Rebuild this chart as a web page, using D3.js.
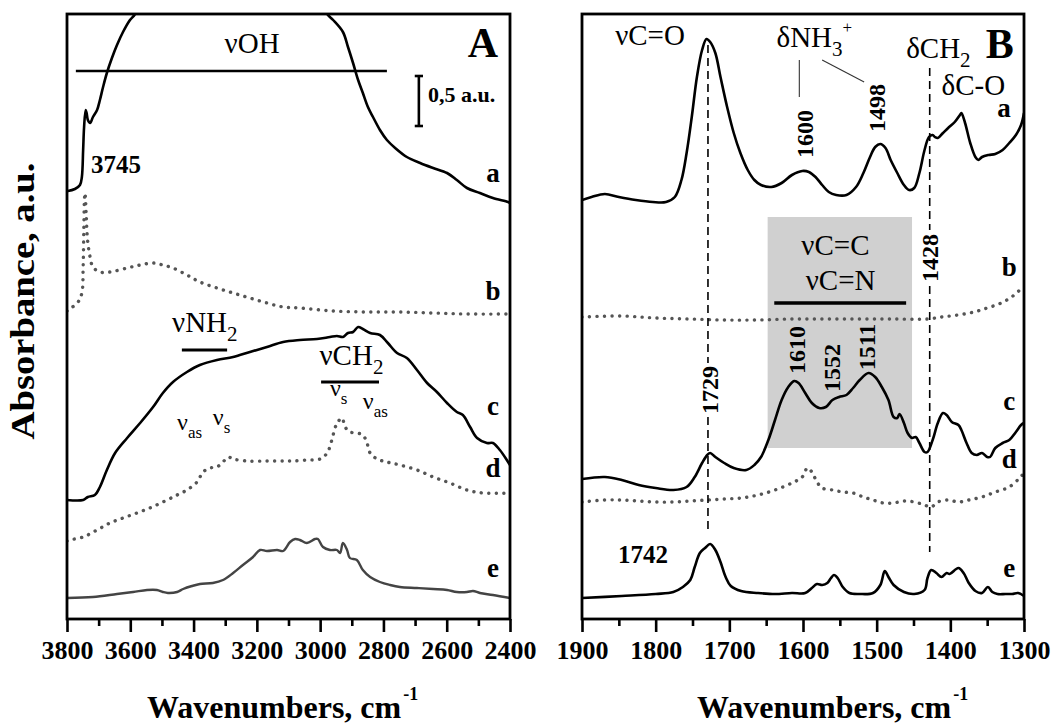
<!DOCTYPE html>
<html><head><meta charset="utf-8">
<script src="https://cdn.jsdelivr.net/npm/d3@7"></script>
<style>
body{margin:0;background:#fff;}
svg{display:block;}
text{font-family:'Liberation Serif','Times New Roman',serif;fill:#000;}
</style></head><body>
<svg id="chart" width="1051" height="724"></svg>
<script>
// ---------- DATA ----------
const xDomainA = [3800, 2400];
const xDomainB = [1900, 1300];
const yDomain = [0, 6.05];
const majorTicksA = [3800, 3600, 3400, 3200, 3000, 2800, 2600, 2400];
const minorTicksA = [3700, 3500, 3300, 3100, 2900, 2700, 2500];
const majorTicksB = [1900, 1800, 1700, 1600, 1500, 1400, 1300];
const minorTicksB = [1850, 1750, 1650, 1550, 1450, 1350];
const xTitle = "Wavenumbers, cm";
const xTitleSup = "-1";
const yTitle = "Absorbance, a.u.";
const curveNames = ["a", "b", "c", "d", "e"];

// Panel A spectra [wavenumber, absorbance]
const A_a = [[3800,4.28],[3797,4.28],[3775,4.30],[3759,4.34],[3753,4.42],[3749,4.69],[3746,4.92],[3741,5.09],[3738,5.06],[3734,4.99],[3727,4.96],[3718,5.02],[3705,5.09],[3696,5.19],[3686,5.32],[3674,5.46],[3658,5.61],[3642,5.74],[3623,5.87],[3601,5.99],[3585,6.05],[3550,6.4],[3450,6.7],[3300,6.8],[3150,6.75],[3050,6.45],[2978,6.05],[2959,5.99],[2928,5.87],[2912,5.72],[2896,5.56],[2880,5.39],[2865,5.26],[2849,5.12],[2833,5.02],[2811,4.89],[2789,4.79],[2763,4.71],[2726,4.62],[2684,4.56],[2643,4.51],[2599,4.46],[2568,4.39],[2536,4.31],[2495,4.26],[2454,4.21],[2406,4.17],[2400,4.16]];
const A_b = [[3800,3.08],[3791,3.10],[3765,3.17],[3753,3.26],[3749,3.52],[3747,3.86],[3745,4.19],[3743,4.26],[3739,4.02],[3735,3.79],[3727,3.62],[3718,3.52],[3696,3.47],[3664,3.47],[3610,3.51],[3569,3.54],[3528,3.56],[3497,3.54],[3465,3.51],[3421,3.44],[3380,3.37],[3326,3.31],[3275,3.26],[3222,3.21],[3168,3.16],[3117,3.12],[3064,3.11],[2959,3.08],[2852,3.07],[2748,3.07],[2643,3.06],[2536,3.05],[2400,3.05]];
const A_c = [[3800,1.19],[3749,1.19],[3734,1.22],[3712,1.24],[3696,1.32],[3674,1.49],[3648,1.66],[3610,1.81],[3569,1.96],[3528,2.12],[3497,2.26],[3465,2.37],[3421,2.47],[3380,2.54],[3326,2.59],[3275,2.62],[3222,2.67],[3168,2.72],[3117,2.77],[3064,2.79],[3010,2.80],[2969,2.82],[2947,2.83],[2928,2.82],[2912,2.86],[2896,2.87],[2880,2.92],[2865,2.90],[2842,2.86],[2811,2.84],[2786,2.76],[2757,2.66],[2726,2.61],[2694,2.49],[2662,2.36],[2631,2.27],[2599,2.16],[2568,2.07],[2549,2.04],[2526,1.92],[2504,1.81],[2473,1.76],[2454,1.76],[2432,1.69],[2406,1.57],[2400,1.54]];
const A_d = [[3800,0.78],[3791,0.79],[3749,0.82],[3705,0.89],[3664,0.96],[3623,1.01],[3579,1.06],[3538,1.11],[3497,1.17],[3452,1.24],[3421,1.29],[3389,1.37],[3370,1.47],[3348,1.51],[3326,1.52],[3307,1.57],[3291,1.62],[3275,1.60],[3231,1.58],[3168,1.58],[3117,1.58],[3086,1.58],[3042,1.59],[3000,1.60],[2978,1.66],[2963,1.79],[2953,1.91],[2944,1.97],[2931,2.01],[2921,1.92],[2906,1.87],[2884,1.86],[2865,1.84],[2852,1.76],[2842,1.66],[2820,1.60],[2789,1.57],[2748,1.54],[2694,1.49],[2643,1.42],[2590,1.36],[2536,1.29],[2485,1.26],[2400,1.26]];
const A_e = [[3800,0.21],[3718,0.22],[3642,0.25],[3591,0.27],[3547,0.29],[3516,0.29],[3497,0.27],[3481,0.26],[3452,0.27],[3433,0.30],[3405,0.33],[3380,0.35],[3339,0.36],[3307,0.39],[3275,0.46],[3244,0.54],[3212,0.62],[3190,0.69],[3168,0.68],[3136,0.69],[3117,0.68],[3095,0.77],[3079,0.80],[3064,0.79],[3042,0.76],[3016,0.80],[3007,0.80],[2991,0.72],[2969,0.69],[2947,0.69],[2937,0.66],[2928,0.76],[2915,0.69],[2906,0.61],[2884,0.59],[2865,0.49],[2842,0.42],[2811,0.37],[2779,0.34],[2748,0.32],[2694,0.31],[2643,0.30],[2599,0.29],[2568,0.27],[2536,0.27],[2517,0.28],[2495,0.26],[2454,0.24],[2400,0.21]];

// Panel B spectra
const B_a = [[1900,4.19],[1887,4.22],[1869,4.25],[1850,4.22],[1827,4.19],[1804,4.17],[1786,4.17],[1774,4.22],[1765,4.39],[1758,4.66],[1751,5.02],[1744,5.42],[1737,5.69],[1731,5.80],[1726,5.77],[1719,5.66],[1712,5.42],[1703,5.12],[1694,4.86],[1685,4.66],[1675,4.49],[1666,4.39],[1657,4.34],[1643,4.32],[1629,4.36],[1615,4.44],[1601,4.48],[1592,4.47],[1583,4.42],[1574,4.34],[1565,4.27],[1555,4.24],[1541,4.24],[1528,4.32],[1518,4.46],[1509,4.62],[1502,4.72],[1495,4.75],[1488,4.71],[1481,4.59],[1472,4.46],[1463,4.34],[1456,4.29],[1449,4.31],[1442,4.46],[1435,4.69],[1429,4.82],[1424,4.84],[1421,4.82],[1417,4.81],[1410,4.86],[1403,4.91],[1394,4.97],[1387,5.04],[1385,5.06],[1380,4.96],[1373,4.76],[1366,4.62],[1362,4.59],[1357,4.62],[1348,4.64],[1339,4.65],[1329,4.69],[1320,4.76],[1311,4.84],[1304,4.94],[1300,5.06]];
const B_b = [[1900,3.02],[1846,3.03],[1800,3.01],[1754,3.00],[1708,2.99],[1662,2.99],[1616,3.00],[1570,3.00],[1523,3.00],[1477,3.00],[1431,3.00],[1412,3.02],[1390,3.04],[1368,3.07],[1350,3.11],[1331,3.16],[1315,3.23],[1300,3.33]];
const B_c = [[1900,1.40],[1869,1.42],[1846,1.39],[1823,1.34],[1800,1.31],[1776,1.29],[1758,1.32],[1747,1.42],[1737,1.56],[1730,1.64],[1726,1.66],[1719,1.62],[1707,1.56],[1694,1.51],[1677,1.49],[1666,1.54],[1657,1.62],[1647,1.79],[1638,1.99],[1629,2.19],[1620,2.32],[1612,2.38],[1606,2.36],[1597,2.26],[1588,2.16],[1578,2.11],[1569,2.12],[1560,2.19],[1551,2.22],[1541,2.24],[1532,2.31],[1523,2.39],[1511,2.46],[1502,2.42],[1493,2.32],[1484,2.19],[1477,2.02],[1472,2.01],[1469,2.05],[1463,1.96],[1458,1.86],[1452,1.81],[1447,1.82],[1442,1.76],[1435,1.67],[1431,1.67],[1424,1.79],[1417,1.96],[1410,2.06],[1405,2.04],[1398,1.97],[1389,1.94],[1385,1.89],[1378,1.76],[1371,1.66],[1364,1.64],[1357,1.66],[1350,1.62],[1346,1.62],[1339,1.71],[1329,1.76],[1320,1.79],[1311,1.87],[1304,1.94],[1300,1.96]];
const B_d = [[1900,1.17],[1869,1.19],[1846,1.19],[1823,1.18],[1800,1.17],[1776,1.17],[1753,1.18],[1730,1.19],[1707,1.20],[1684,1.21],[1661,1.24],[1638,1.29],[1615,1.36],[1601,1.42],[1594,1.51],[1588,1.47],[1581,1.37],[1574,1.31],[1560,1.29],[1546,1.27],[1532,1.26],[1518,1.22],[1505,1.19],[1491,1.16],[1477,1.16],[1463,1.18],[1449,1.17],[1435,1.14],[1426,1.12],[1417,1.17],[1403,1.19],[1389,1.17],[1375,1.19],[1357,1.22],[1339,1.27],[1320,1.32],[1306,1.41],[1300,1.46]];
const B_e = [[1900,0.21],[1846,0.23],[1800,0.25],[1776,0.27],[1763,0.32],[1753,0.39],[1747,0.52],[1740,0.66],[1733,0.71],[1726,0.75],[1719,0.69],[1712,0.57],[1705,0.42],[1698,0.33],[1684,0.28],[1661,0.26],[1638,0.25],[1615,0.26],[1597,0.26],[1588,0.31],[1581,0.35],[1574,0.34],[1567,0.36],[1562,0.41],[1558,0.44],[1553,0.41],[1546,0.32],[1537,0.26],[1523,0.25],[1505,0.26],[1495,0.34],[1489,0.48],[1484,0.42],[1477,0.34],[1463,0.27],[1449,0.25],[1435,0.29],[1431,0.41],[1426,0.49],[1419,0.46],[1412,0.42],[1405,0.46],[1401,0.45],[1389,0.51],[1382,0.46],[1375,0.36],[1366,0.28],[1357,0.26],[1349,0.32],[1343,0.27],[1336,0.25],[1325,0.25],[1316,0.25],[1308,0.26],[1300,0.23]];

// marked peak positions (cm-1)
const dashedPeaks = [1729, 1428];
const shadedRange = [1648, 1452];   // νC=C / νC=N band
const shadedAbs = [1.71, 4.02];
const scaleBarAU = 0.5;

// ---------- LAYOUT ----------
const svg = d3.select("#chart");
const y = d3.scaleLinear().domain(yDomain).range([619, 14]);
const xA = d3.scaleLinear().domain(xDomainA).range([67, 510]);
const xB = d3.scaleLinear().domain(xDomainB).range([582, 1024]);
const SERIF = "'Liberation Serif','Times New Roman',serif";
const SANS = "'Liberation Sans',Arial,sans-serif";

function lineGen(xs) {
  return d3.line().x(d => xs(d[0])).y(d => y(d[1])).curve(d3.curveCatmullRom.alpha(0.5));
}

function label(g, xs, a) {
  const size = a.size;
  const t = g.append("text")
    .attr("font-size", size)
    .attr("font-weight", a.bold ? "bold" : "normal")
    .attr("font-family", a.sans ? SANS : SERIF);
  const px = xs(a.w), py = y(a.v);
  if (a.rot) {
    t.attr("transform", `translate(${px + size * 0.34},${py}) rotate(-90)`).attr("text-anchor", "middle");
  } else {
    t.attr("x", px).attr("y", py).attr("text-anchor", a.anchor || "start");
  }
  let shift = 0;
  a.parts.forEach(p => {
    const ts = t.append("tspan").text(p[0]);
    const target = p[1] === "sub" ? size * 0.32 : p[1] === "sup" ? -size * 0.5 : 0;
    if (target !== shift) { ts.attr("dy", target - shift); shift = target; }
    if (p[1]) ts.attr("font-size", p[2] || size * 0.7);
  });
  return t;
}

function drawPanel(cfg) {
  const xs = cfg.x;
  const g = svg.append("g");
  const [x0, x1] = xs.range();
  const clipId = "clip" + cfg.name;
  svg.append("clipPath").attr("id", clipId).append("rect")
    .attr("x", x0).attr("y", y.range()[1]).attr("width", x1 - x0).attr("height", y.range()[0] - y.range()[1]);

  if (cfg.before) cfg.before(g, xs);

  const cg = g.append("g").attr("clip-path", `url(#${clipId})`);
  cfg.curves.forEach(c => {
    const p = cg.append("path").datum(c.data).attr("d", lineGen(xs))
      .attr("fill", "none").attr("stroke", c.color).attr("stroke-width", c.width)
      .attr("stroke-linejoin", "round");
    if (c.dotted) p.attr("stroke-dasharray", "0.1 7.4").attr("stroke-linecap", "round");
  });

  if (cfg.after) cfg.after(g, xs);

  // curve labels a-e
  curveNames.forEach((n, i) => {
    label(g, xs, { w: cfg.labelW[i], v: cfg.labelV[i], size: 27, bold: true, anchor: "middle", parts: [[n]] });
  });

  // axes
  const ax = g.append("g").attr("transform", `translate(0,${y.range()[0]})`);
  ax.call(d3.axisBottom(xs).tickValues(cfg.minor).tickSize(7).tickFormat(""));
  ax.call(g2 => g2.select(".domain").remove());
  const ax2 = g.append("g").attr("transform", `translate(0,${y.range()[0]})`);
  ax2.call(d3.axisBottom(xs).tickValues(cfg.major).tickSize(13).tickPadding(9).tickFormat(d3.format("d")));
  ax2.select(".domain").remove();
  g.selectAll(".tick line").attr("stroke", "#000").attr("stroke-width", 2.6);
  ax2.selectAll(".tick text").attr("font-family", SERIF).attr("font-size", 26).attr("font-weight", "bold").attr("fill", "#000");

  // frame
  g.append("rect").attr("x", x0).attr("y", y.range()[1]).attr("width", x1 - x0).attr("height", y.range()[0] - y.range()[1])
    .attr("fill", "none").attr("stroke", "#000").attr("stroke-width", 2.8);

  // x title
  const tt = g.append("text").attr("x", cfg.titleX).attr("y", 718)
    .attr("font-size", 32).attr("font-weight", "bold").attr("font-family", SERIF);
  tt.append("tspan").text(xTitle);
  tt.append("tspan").text(xTitleSup).attr("font-size", 18).attr("dy", -18).attr("dx", 2);
}

function hline(g, xs, w0, w1, v, width, color) {
  g.append("line").attr("x1", xs(w0)).attr("x2", xs(w1)).attr("y1", y(v)).attr("y2", y(v))
    .attr("stroke", color || "#000").attr("stroke-width", width);
}
function seg(g, xs, w0, v0, w1, v1, width, color, dash) {
  const l = g.append("line").attr("x1", xs(w0)).attr("x2", xs(w1)).attr("y1", y(v0)).attr("y2", y(v1))
    .attr("stroke", color || "#000").attr("stroke-width", width);
  if (dash) l.attr("stroke-dasharray", dash);
}

// ---------- PANEL A ----------
drawPanel({
  name: "A", x: xA, major: majorTicksA, minor: minorTicksA, titleX: 147,
  labelW: [2454, 2454, 2454, 2454, 2454], labelV: [4.37, 3.19, 2.04, 1.42, 0.42],
  curves: [
    { data: A_a, color: "#000", width: 2.6 },
    { data: A_b, color: "#555", width: 3.4, dotted: true },
    { data: A_c, color: "#000", width: 2.6 },
    { data: A_d, color: "#555", width: 3.4, dotted: true },
    { data: A_e, color: "#444", width: 2.4 }
  ],
  after: (g, xs) => {
    label(g, xs, { w: 3215, v: 5.66, size: 29, anchor: "middle", parts: [["νOH"]] });
    hline(g, xs, 3772, 2789, 5.48, 2.6);
    label(g, xs, { w: 2438, v: 5.62, size: 42, bold: true, anchor: "end", parts: [["A"]] });
    // scale bar 0.5 a.u.
    const sbW = 2688, sbTop = 5.43;
    seg(g, xs, sbW, sbTop, sbW, sbTop - scaleBarAU, 2.6);
    seg(g, xs, sbW + 13, sbTop, sbW - 13, sbTop, 2.6);
    seg(g, xs, sbW + 13, sbTop - scaleBarAU, sbW - 13, sbTop - scaleBarAU, 2.6);
    label(g, xs, { w: 2659, v: 5.17, size: 22, bold: true, parts: [["0,5 a.u."]] });
    label(g, xs, { w: 3724, v: 4.46, size: 25, bold: true, parts: [["3745"]] });
    // νNH2
    label(g, xs, { w: 3468, v: 2.87, size: 29, parts: [["νNH"], ["2", "sub", 21]] });
    hline(g, xs, 3437, 3294, 2.69, 3);
    // νCH2
    label(g, xs, { w: 3002, v: 2.54, size: 29, parts: [["νCH"], ["2", "sub", 21]] });
    hline(g, xs, 2997, 2814, 2.37, 3);
    // sans ν labels
    label(g, xs, { w: 2969, v: 2.23, size: 24, sans: true, parts: [["ν"], ["s", "sub", 17]] });
    label(g, xs, { w: 2865, v: 2.10, size: 24, sans: true, parts: [["ν"], ["as", "sub", 17]] });
    label(g, xs, { w: 3452, v: 1.89, size: 24, sans: true, parts: [["ν"], ["as", "sub", 17]] });
    label(g, xs, { w: 3339, v: 1.94, size: 24, sans: true, parts: [["ν"], ["s", "sub", 17]] });
  }
});

// ---------- PANEL B ----------
drawPanel({
  name: "B", x: xB, major: majorTicksB, minor: minorTicksB, titleX: 697,
  labelW: [1327, 1320, 1320, 1320, 1320], labelV: [5.02, 3.43, 2.09, 1.51, 0.42],
  curves: [
    { data: B_a, color: "#000", width: 2.6 },
    { data: B_b, color: "#555", width: 3.4, dotted: true },
    { data: B_c, color: "#000", width: 2.6 },
    { data: B_d, color: "#555", width: 3.4, dotted: true },
    { data: B_e, color: "#000", width: 2.6 }
  ],
  before: (g, xs) => {
    g.append("rect").attr("x", xs(shadedRange[0])).attr("width", xs(shadedRange[1]) - xs(shadedRange[0]))
      .attr("y", y(shadedAbs[1])).attr("height", y(shadedAbs[0]) - y(shadedAbs[1])).attr("fill", "#d0d0d0");
  },
  after: (g, xs) => {
    // dashed lines split around rotated labels
    seg(g, xs, dashedPeaks[0], 5.74, dashedPeaks[0], 2.56, 1.6, "#000", "8,5");
    seg(g, xs, dashedPeaks[0], 2.02, dashedPeaks[0], 0.89, 1.6, "#000", "8,5");
    seg(g, xs, dashedPeaks[1], 5.51, dashedPeaks[1], 3.89, 1.6, "#000", "8,5");
    seg(g, xs, dashedPeaks[1], 3.33, dashedPeaks[1], 0.67, 1.6, "#000", "8,5");
    label(g, xs, { w: 1727, v: 2.29, size: 24, bold: true, rot: true, parts: [["1729"]] });
    label(g, xs, { w: 1428, v: 3.61, size: 24, bold: true, rot: true, parts: [["1428"]] });

    label(g, xs, { w: 1855, v: 5.74, size: 29, parts: [["νC=O"]] });
    label(g, xs, { w: 1636, v: 5.72, size: 29, parts: [["δNH"], ["3", "sub", 21], ["+", "sup", 17]] });
    seg(g, xs, 1605, 5.59, 1605, 5.22, 1.1, "#333");
    seg(g, xs, 1574, 5.59, 1517, 5.37, 1.1, "#333");
    label(g, xs, { w: 1500, v: 5.11, size: 24, bold: true, rot: true, parts: [["1498"]] });
    label(g, xs, { w: 1598, v: 4.85, size: 24, bold: true, rot: true, parts: [["1600"]] });
    label(g, xs, { w: 1460, v: 5.61, size: 29, parts: [["δCH"], ["2", "sub", 21]] });
    label(g, xs, { w: 1314, v: 5.61, size: 42, bold: true, anchor: "end", parts: [["B"]] });
    label(g, xs, { w: 1412, v: 5.24, size: 29, parts: [["δC-O"]] });

    label(g, xs, { w: 1556, v: 3.64, size: 29, anchor: "middle", parts: [["νC=C"]] });
    label(g, xs, { w: 1549, v: 3.29, size: 29, anchor: "middle", parts: [["νC=N"]] });
    hline(g, xs, 1639, 1460, 3.16, 3.4);
    label(g, xs, { w: 1609, v: 2.69, size: 24, bold: true, rot: true, parts: [["1610"]] });
    label(g, xs, { w: 1561, v: 2.51, size: 24, bold: true, rot: true, parts: [["1552"]] });
    label(g, xs, { w: 1513, v: 2.72, size: 24, bold: true, rot: true, parts: [["1511"]] });
    label(g, xs, { w: 1851, v: 0.56, size: 25, bold: true, parts: [["1742"]] });
  }
});

// y title
svg.append("text").attr("transform", "translate(34,301) rotate(-90)").attr("text-anchor", "middle")
  .attr("font-size", 34).attr("font-weight", "bold").attr("font-family", SERIF)
  .attr("textLength", 277).attr("lengthAdjust", "spacingAndGlyphs").text(yTitle);
</script>
</body></html>
